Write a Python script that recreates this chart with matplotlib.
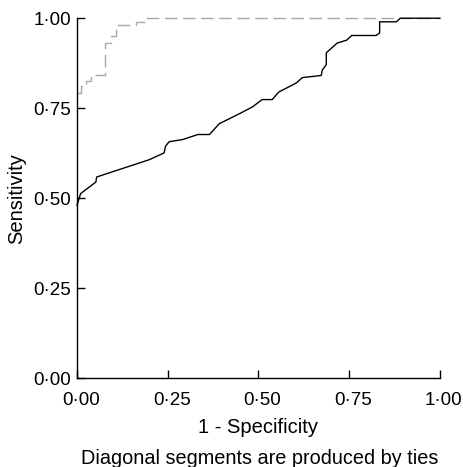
import matplotlib
matplotlib.use("Agg")
import matplotlib.pyplot as plt
import matplotlib.transforms as mtransforms
from matplotlib.ticker import FuncFormatter

plt.rcParams['font.family'] = ['Liberation Sans', 'DejaVu Sans']

# ROC curve (1 - specificity, sensitivity)
fpr_black = [0.0, 0.01, 0.052, 0.054, 0.199, 0.24, 0.244, 0.254, 0.291, 0.333,
             0.365, 0.392, 0.448, 0.484, 0.51, 0.538, 0.556, 0.604, 0.621, 0.673,
             0.676, 0.687, 0.687, 0.717, 0.743, 0.757, 0.824, 0.834, 0.834, 0.88,
             0.891, 1.0]
tpr_black = [0.481, 0.513, 0.545, 0.559, 0.607, 0.626, 0.645, 0.657, 0.663, 0.677,
             0.677, 0.707, 0.735, 0.754, 0.774, 0.774, 0.795, 0.82, 0.835, 0.841,
             0.856, 0.871, 0.904, 0.931, 0.939, 0.952, 0.952, 0.959, 0.99, 0.99,
             1.0, 1.0]

fpr_grey = [0.0, 0.01, 0.01, 0.024, 0.024, 0.038, 0.038, 0.078, 0.078, 0.093,
            0.093, 0.107, 0.107, 0.162, 0.162, 0.19, 0.19, 1.0]
tpr_grey = [0.791, 0.791, 0.811, 0.811, 0.826, 0.826, 0.842, 0.842, 0.93, 0.93,
            0.95, 0.95, 0.98, 0.98, 0.99, 0.99, 1.0, 1.0]

ticks = [0.0, 0.25, 0.5, 0.75, 1.0]

fig = plt.figure(figsize=(4.64, 4.67), dpi=100)
ax = fig.add_axes([0.166, 0.19, 0.782, 0.771])

ax.plot(fpr_grey, tpr_grey, color='#a8a8a8', lw=1.0, dashes=(9, 4), clip_on=False)
ax.plot(fpr_black, tpr_black, color='black', lw=1.0, clip_on=False)

ax.set_xlim(0, 1)
ax.set_ylim(0, 1)
ax.set_xticks(ticks)
ax.set_yticks(ticks)
fmt = FuncFormatter(lambda v, p: ("%.2f" % v).replace('.', '\u00b7'))
ax.xaxis.set_major_formatter(fmt)
ax.yaxis.set_major_formatter(fmt)
ax.tick_params(direction='in', length=6, width=1, labelsize=13.5, pad=4.5)
ax.tick_params(axis='x', pad=10)

ax.spines['top'].set_visible(False)
ax.spines['right'].set_visible(False)
for s in ['left', 'bottom']:
    ax.spines[s].set_linewidth(1)

# x tick labels sit a bit to the right of their ticks in the original
off = mtransforms.ScaledTranslation(4 / 100, 0, fig.dpi_scale_trans)
for lab in ax.get_xticklabels():
    lab.set_transform(lab.get_transform() + off)

ax.set_xlabel("1 - Specificity", fontsize=14.5, va='center')
ax.xaxis.set_label_coords(0.5, -49 / 360)
ax.set_ylabel("Sensitivity", fontsize=14.5, va='center')
ax.yaxis.set_label_coords(-60 / 363, 0.5)

fig.text(0.56, 1 - 458 / 467, "Diagonal segments are produced by ties", fontsize=14.3,
         ha='center', va='center')

fig.savefig("out.png", dpi=100)
